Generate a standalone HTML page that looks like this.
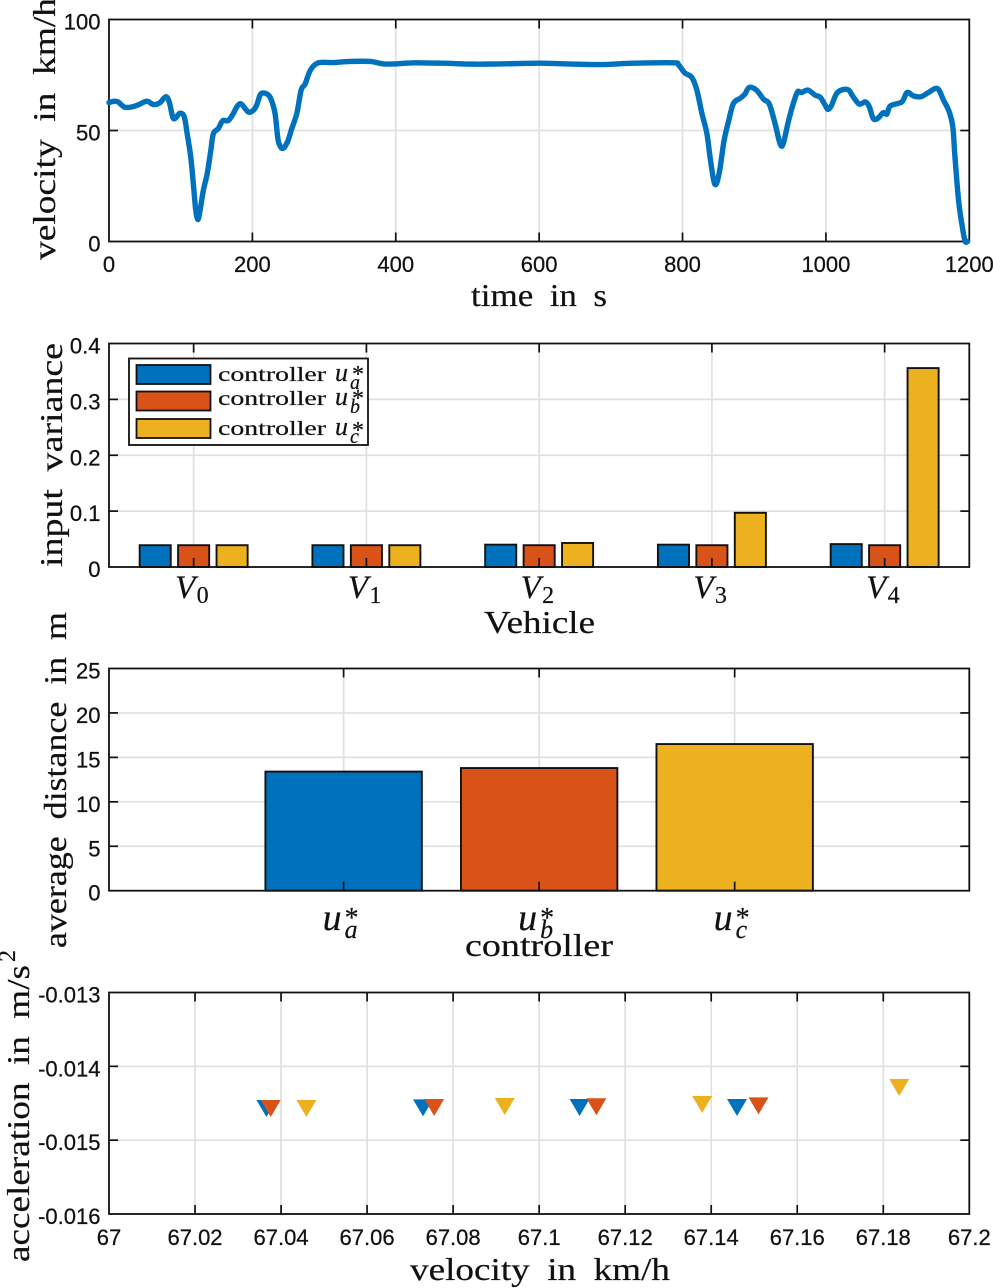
<!DOCTYPE html>
<html lang="en">
<head>
<meta charset="utf-8">
<title>Vehicle controller comparison</title>
<style>
html,body{margin:0;padding:0;background:#fff;}
svg{display:block;}
.lab{font-family:"Liberation Serif",serif;fill:#111;stroke:#111;stroke-width:.2px;}
.tick{font-family:"Liberation Sans",sans-serif;font-size:22px;fill:#111;stroke:#111;stroke-width:.25px;}
.math{font-family:"Liberation Serif",serif;font-style:italic;fill:#111;stroke:#111;stroke-width:.2px;}
.up{font-family:"Liberation Serif",serif;fill:#111;stroke:#111;stroke-width:.2px;}
</style>
</head>
<body>
<svg id="fig" xmlns="http://www.w3.org/2000/svg" width="993" height="1288" viewBox="0 0 993 1288">
  <rect x="0" y="0" width="993" height="1288" fill="#ffffff"/>
  <g id="layer-p1"></g>
  <g id="layer-p2"></g>
  <g id="layer-p3"></g>
  <g id="layer-p4"></g>

  <text class="lab" font-size="32" word-spacing="7" lengthAdjust="spacingAndGlyphs" textLength="262" transform="translate(55,260) rotate(-90)">velocity in km/h</text>
  <text class="lab" font-size="32" word-spacing="7" lengthAdjust="spacingAndGlyphs" textLength="136" x="471" y="306">time in s</text>

  <text class="lab" font-size="32" word-spacing="7" lengthAdjust="spacingAndGlyphs" textLength="224" transform="translate(62,567) rotate(-90)">input variance</text>
  <text class="lab" font-size="32" lengthAdjust="spacingAndGlyphs" textLength="111" x="484" y="633">Vehicle</text>

  <text class="lab" font-size="32" word-spacing="7" lengthAdjust="spacingAndGlyphs" textLength="336" transform="translate(66,948) rotate(-90)">average distance in m</text>
  <text class="lab" font-size="32" lengthAdjust="spacingAndGlyphs" textLength="148" x="465" y="956">controller</text>

  <text class="lab" font-size="32" word-spacing="7" lengthAdjust="spacingAndGlyphs" textLength="297" transform="translate(29,1262) rotate(-90)">acceleration in m/s</text>
  <text class="lab" font-size="24" transform="translate(15,962) rotate(-90)">2</text>
  <text class="lab" font-size="32" word-spacing="7" lengthAdjust="spacingAndGlyphs" textLength="260" x="410" y="1280">velocity in km/h</text>

  <g>
    <rect x="129" y="358.5" width="239" height="86.5" fill="#fff" stroke="#111" stroke-width="1.8"/>
    <rect x="136.5" y="365" width="74" height="19" fill="#0072BD" stroke="#111" stroke-width="1.8"/>
    <rect x="136.5" y="391.5" width="74" height="19" fill="#D95319" stroke="#111" stroke-width="1.8"/>
    <rect x="136.5" y="419" width="74" height="19" fill="#EDB120" stroke="#111" stroke-width="1.8"/>
    <g>
      <text class="lab" font-size="20" lengthAdjust="spacingAndGlyphs" textLength="108" x="218" y="381">controller</text>
      <text class="math" font-size="26" x="335" y="381">u</text>
      <text class="up" font-size="24" x="352" y="382">*</text>
      <text class="math" font-size="20" x="350" y="389">a</text>
    </g>
    <g>
      <text class="lab" font-size="20" lengthAdjust="spacingAndGlyphs" textLength="108" x="218" y="405">controller</text>
      <text class="math" font-size="26" x="335" y="405">u</text>
      <text class="up" font-size="24" x="352" y="406">*</text>
      <text class="math" font-size="20" x="350" y="413">b</text>
    </g>
    <g>
      <text class="lab" font-size="20" lengthAdjust="spacingAndGlyphs" textLength="108" x="218" y="435">controller</text>
      <text class="math" font-size="26" x="335" y="435">u</text>
      <text class="up" font-size="24" x="352" y="438">*</text>
      <text class="math" font-size="20" x="350" y="443">c</text>
    </g>
  </g>
</svg>

<script>
// ---------- chart data ----------
const timeSeconds = [0,8,13,22,33,43,53,62,71,79,84,89,93,99,105,109,114,118,121,124,127,131.6,137,142,145.6,152.5,158.6,166.5,173.5,179,184.7,194,201,206,211.6,220,225.6,231.6,236,242,249,255,262,268,273.5,281,292,313,336,364,383,400,425,466,508,545,600,638,685,731,787,794,803,813,820,827,834,839,845,851,858,864,871,880,887,893,903,913,921,929,936,940.5,947.5,954.5,960.5,966,975,985,992,999,1003,1008,1016,1030,1038,1046.5,1055,1060.5,1066,1072,1080,1085,1090,1106,1113,1122,1132.5,1143,1155.5,1164,1172,1177,1180,1185,1189.5,1194,1197.5];
const velocityKmh = [62.6,63.2,62.8,60.5,60.7,61.9,63.2,61.7,62.5,65.2,62.9,55.9,55.7,57.8,56.2,48.6,38.1,24.6,14.1,9.9,14,23,30.6,41,48.6,50.9,54.4,54.5,57.7,61,61.9,58.4,59,61.4,66.4,66.5,64.4,57.7,45.6,41.9,44.9,50.9,57.7,68.2,70.9,77.2,80.5,80.6,81.1,81.1,80,80,80.5,80.3,79.9,80,80.3,80,79.7,80.3,80.5,79.7,76,73.9,68.2,57.7,48.6,36.6,25.8,30.6,45.6,53.9,62.2,64.4,66.4,69.4,68.2,64.1,61.9,53.2,44.1,44.1,53.9,62.2,67.4,67.1,68.2,65.9,65,61.4,59.5,61.4,67.1,68.5,65.2,61.9,62.9,60.7,55.4,55.4,58,57.4,61.1,62.9,67.1,65.6,65.2,67.1,68.9,63.7,58.4,51.7,38.1,18.6,8.1,0.3,0];

const velocityXTicks = [0,200,400,600,800,1000,1200];
const velocityYTicks = [0,50,100];

const vehicleNames = ['0','1','2','3','4'];
const varianceA = [0.039,0.039,0.040,0.040,0.041];
const varianceB = [0.039,0.039,0.039,0.039,0.039];
const varianceC = [0.039,0.039,0.043,0.097,0.356];
const varianceYTicks = [0,0.1,0.2,0.3,0.4];

const controllerNames = ['a','b','c'];
const averageDistance = [13.4,13.8,16.5];
const distanceYTicks = [0,5,10,15,20,25];

const accelXTicks = ['67','67.02','67.04','67.06','67.08','67.1','67.12','67.14','67.16','67.18','67.2'];
const accelYTicks = ['-0.013','-0.014','-0.015','-0.016'];
const velocityA = [67.0366,67.073,67.1094,67.146];
const accelA = [-0.014571,-0.014562,-0.014558,-0.014558];
const velocityB = [67.0376,67.0756,67.1133,67.151];
const accelB = [-0.014571,-0.014558,-0.014548,-0.014535];
const velocityC = [67.0459,67.092,67.1379,67.1837];
const accelC = [-0.014571,-0.014544,-0.014517,-0.014287];

// ---------- helpers ----------
const NS = 'http://www.w3.org/2000/svg';
const BLUE = '#0072BD', ORANGE = '#D95319', YELLOW = '#EDB120';
const GRID = '#e0e0e0', INK = '#111111';
const L = 109, R = 969.3;
const TICK = 9;
function mk(parent, tag, props){
  const el = document.createElementNS(NS, tag);
  for (const k in props) el.setAttribute(k, props[k]);
  parent.appendChild(el);
  return el;
}
function linear(d0, d1, r0, r1){
  return v => r0 + (v - d0) / (d1 - d0) * (r1 - r0);
}
function smoothPath(p){
  let d = 'M' + p[0][0].toFixed(2) + ' ' + p[0][1].toFixed(2);
  for (let i = 0; i < p.length - 1; i++){
    const a = p[Math.max(i - 1, 0)], b = p[i], c = p[i + 1], e = p[Math.min(i + 2, p.length - 1)];
    const c1x = b[0] + (c[0] - a[0]) / 6, c1y = b[1] + (c[1] - a[1]) / 6;
    const c2x = c[0] - (e[0] - b[0]) / 6, c2y = c[1] - (e[1] - b[1]) / 6;
    d += 'C' + c1x.toFixed(2) + ' ' + c1y.toFixed(2) + ' ' + c2x.toFixed(2) + ' ' + c2y.toFixed(2) + ' ' + c[0].toFixed(2) + ' ' + c[1].toFixed(2);
  }
  return d;
}
function gridV(g, px, top, bot){
  const el = mk(g, 'line', {x1:px, x2:px, y1:top, y2:bot, stroke:GRID, 'stroke-width':1.7});
  
  
}
function gridH(g, py){
  const el = mk(g, 'line', {x1:L, x2:R, y1:py, y2:py, stroke:GRID, 'stroke-width':1.7});
  
  
}
function ticksX(g, px, top, bot){
  const a = mk(g, 'line', {x1:px, x2:px, y1:bot, y2:bot - TICK, stroke:INK, 'stroke-width':1.7});
  
  
  const b = mk(g, 'line', {x1:px, x2:px, y1:top, y2:top + TICK, stroke:INK, 'stroke-width':1.7});
  
  
}
function ticksY(g, py){
  const a = mk(g, 'line', {x1:L, x2:L + TICK, y1:py, y2:py, stroke:INK, 'stroke-width':1.7});
  
  
  const b = mk(g, 'line', {x1:R, x2:R - TICK, y1:py, y2:py, stroke:INK, 'stroke-width':1.7});
  
  
}
function labelY(g, text, py){
  const el = mk(g, 'text', {class:'tick', x:100.5, y:py + 10, 'text-anchor':'end'});
  el.textContent = text;
  
  
}
function labelX(g, text, px, base){
  const el = mk(g, 'text', {class:'tick', x:px, y:base, 'text-anchor':'middle'});
  el.textContent = text;
  
  
}
function frame(g, top, bot){
  const el = mk(g, 'rect', {x:L, y:top, width:R - L, height:bot - top, fill:'none', stroke:INK, 'stroke-width':1.8});
  
  
}

// ---------- panel 1: velocity profile ----------
(function(){
  const g = document.getElementById('layer-p1');
  const top = 19.5, bot = 241.5;
  const x = linear(0, 1200, L, R), y = linear(0, 100, bot, top);
  velocityXTicks.forEach(t => { if (t > 0 && t < 1200) gridV(g, x(t), top, bot); });
  velocityYTicks.forEach(t => { if (t > 0 && t < 100) gridH(g, y(t)); });
  velocityXTicks.forEach(t => { if (t > 0 && t < 1200) ticksX(g, x(t), top, bot); });
  velocityYTicks.forEach(t => { if (t > 0 && t < 100) ticksY(g, y(t)); });
  frame(g, top, bot);
  const pts = timeSeconds.map((t, i) => [x(t), y(velocityKmh[i])]);
  const line = mk(g, 'path', {d:smoothPath(pts), fill:'none', stroke:BLUE, 'stroke-width':5.4, 'stroke-linejoin':'round', 'stroke-linecap':'round'});
  
  
  velocityXTicks.forEach(t => labelX(g, String(t), x(t), 272));
  velocityYTicks.forEach(t => labelY(g, String(t), y(t)));
})();

// ---------- panel 2: input variance grouped bars ----------
(function(){
  const g = document.getElementById('layer-p2');
  const top = 343.5, bot = 567;
  const x = linear(0.51, 5.49, L, R), y = linear(0, 0.4, bot, top);
  const centers = vehicleNames.map((n, i) => x(i + 1));
  centers.forEach(c => gridV(g, c, top, bot));
  varianceYTicks.forEach(t => { if (t > 0 && t < 0.4) gridH(g, y(t)); });
  const series = [varianceA, varianceB, varianceC];
  const colors = [BLUE, ORANGE, YELLOW];
  const offset = [-0.2225, 0, 0.2225];
  const barW = 0.18;
  series.forEach((vals, s) => {
    vals.forEach((v, i) => {
      const x0 = x(i + 1 + offset[s] - barW / 2), x1 = x(i + 1 + offset[s] + barW / 2);
      const bar = mk(g, 'rect', {x:x0, y:y(v), width:x1 - x0, height:y(0) - y(v), fill:colors[s], stroke:INK, 'stroke-width':1.9});
      
      
    });
  });
  centers.forEach(c => ticksX(g, c, top, bot));
  varianceYTicks.forEach(t => { if (t > 0 && t < 0.4) ticksY(g, y(t)); });
  frame(g, top, bot);
  varianceYTicks.forEach(t => labelY(g, t === 0 ? '0' : t.toFixed(1), y(t)));
  vehicleNames.forEach((n, i) => {
    const v = mk(g, 'text', {class:'math', 'font-size':33, x:centers[i] - 18.5, y:598});
    v.textContent = 'V';
    
    
    const s = mk(g, 'text', {class:'up', 'font-size':24, x:centers[i] + 3, y:603});
    s.textContent = n;
    
    
  });
})();

// ---------- panel 3: average distance bars ----------
(function(){
  const g = document.getElementById('layer-p3');
  const top = 668.5, bot = 890.7;
  const x = linear(-0.2, 4.2, L, R), y = linear(0, 25, bot, top);
  controllerNames.forEach((n, i) => gridV(g, x(i + 1), top, bot));
  distanceYTicks.forEach(t => { if (t > 0 && t < 25) gridH(g, y(t)); });
  const colors = [BLUE, ORANGE, YELLOW];
  averageDistance.forEach((v, i) => {
    const x0 = x(i + 1 - 0.4), x1 = x(i + 1 + 0.4);
    const bar = mk(g, 'rect', {x:x0, y:y(v), width:x1 - x0, height:y(0) - y(v), fill:colors[i], stroke:INK, 'stroke-width':1.9});
    
    
  });
  controllerNames.forEach((n, i) => ticksX(g, x(i + 1), top, bot));
  distanceYTicks.forEach(t => { if (t > 0 && t < 25) ticksY(g, y(t)); });
  frame(g, top, bot);
  distanceYTicks.forEach(t => labelY(g, String(t), y(t)));
  controllerNames.forEach((n, i) => {
    const c = x(i + 1);
    const u = mk(g, 'text', {class:'math', 'font-size':38, x:c - 21, y:930});
    u.textContent = 'u';
    
    
    const star = mk(g, 'text', {class:'up', 'font-size':28, x:c + 1, y:927});
    star.textContent = '*';
    
    
    const sub = mk(g, 'text', {class:'math', 'font-size':26, x:c + 1, y:938});
    sub.textContent = n;
    
    
  });
})();

// ---------- panel 4: acceleration vs velocity markers ----------
(function(){
  const g = document.getElementById('layer-p4');
  const top = 992.5, bot = 1214;
  const x = linear(67, 67.2, L, R), y = linear(-0.016, -0.013, bot, top);
  accelXTicks.forEach(t => { const v = Number(t); if (v > 67 && v < 67.2) gridV(g, x(v), top, bot); });
  accelYTicks.forEach(t => { const v = Number(t); if (v < -0.013 && v > -0.016) gridH(g, y(v)); });
  accelXTicks.forEach(t => { const v = Number(t); if (v > 67 && v < 67.2) ticksX(g, x(v), top, bot); });
  accelYTicks.forEach(t => { const v = Number(t); if (v < -0.013 && v > -0.016) ticksY(g, y(v)); });
  frame(g, top, bot);
  const xs = [velocityA, velocityB, velocityC];
  const ys = [accelA, accelB, accelC];
  const colors = [BLUE, ORANGE, YELLOW];
  xs.forEach((col, s) => {
    col.forEach((v, i) => {
      const cx = x(v), cy = y(ys[s][i]);
      const tri = mk(g, 'polygon', {points:(cx - 10) + ',' + (cy - 8.5) + ' ' + (cx + 10) + ',' + (cy - 8.5) + ' ' + cx + ',' + (cy + 8.5), fill:colors[s]});
      
      
    });
  });
  accelYTicks.forEach(t => labelY(g, t, y(Number(t))));
  accelXTicks.forEach(t => labelX(g, t, x(Number(t)), 1245));
})();
</script>
</body>
</html>
